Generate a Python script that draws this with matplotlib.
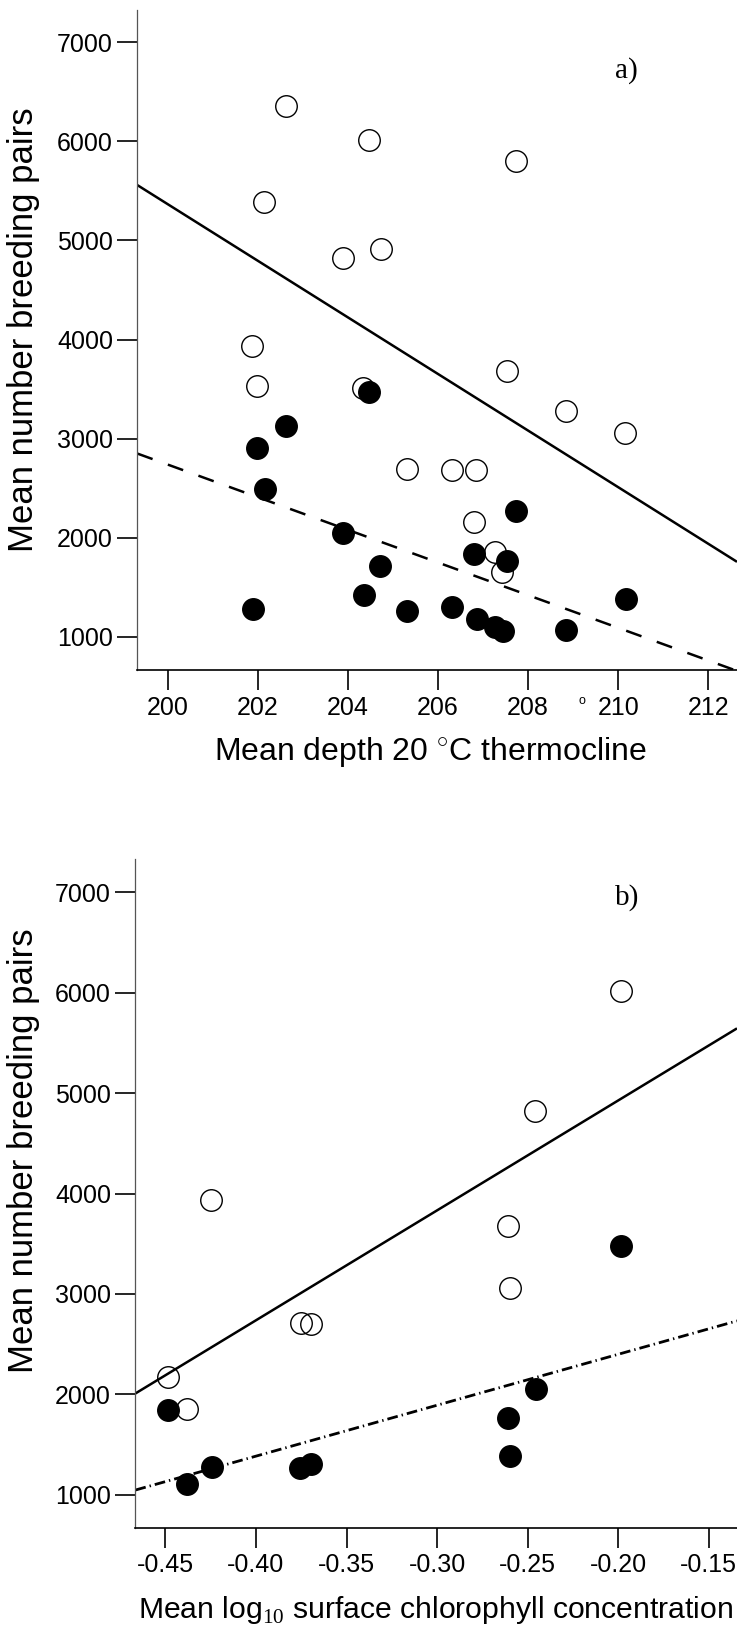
import matplotlib
matplotlib.use('Agg')
import matplotlib.pyplot as plt

plt.rcParams['font.family'] = ['Liberation Sans', 'DejaVu Sans']
plt.rcParams['mathtext.fontset'] = 'custom'
plt.rcParams['mathtext.rm'] = 'Liberation Serif'

# panel a) thermocline depth vs breeding pairs
depth_open = [202.62, 204.46, 207.73, 202.14, 203.89, 204.73, 201.87, 201.98, 207.54,
              208.85, 204.33, 210.15, 205.31, 206.32, 206.85, 206.79, 207.26, 207.42]
pairs_open_a = [6357, 6013, 5805, 5387, 4822, 4909, 3939, 3532, 3680,
                3275, 3512, 3057, 2697, 2687, 2687, 2160, 1857, 1655]
depth_filled = [204.46, 202.62, 201.97, 202.15, 207.73, 203.88, 206.79, 207.54, 204.72,
                204.36, 210.17, 201.88, 205.31, 206.30, 206.86, 207.26, 207.44, 208.85]
pairs_filled_a = [3471, 3128, 2909, 2496, 2271, 2042, 1834, 1766, 1716,
                  1420, 1380, 1276, 1262, 1303, 1175, 1094, 1054, 1067]
fit_x_a = [199.32, 212.64]
fit_open_a = [5559, 1756]
fit_filled_a = [2849, 655]

# panel b) log10 chlorophyll vs breeding pairs
chl_open = [-0.1983, -0.246, -0.4246, -0.2606, -0.2595, -0.3753, -0.3696, -0.4487, -0.4381]
pairs_open_b = [6013, 4824, 3940, 3680, 3060, 2711, 2698, 2174, 1849]
chl_filled = [-0.1983, -0.2455, -0.4241, -0.2606, -0.2595, -0.3758, -0.3696, -0.4487, -0.4381]
pairs_filled_b = [3474, 2048, 1279, 1766, 1388, 1269, 1302, 1840, 1103]
fit_x_b = [-0.4666, -0.1344]
fit_open_b = [2008, 5645]
fit_filled_b = [1046, 2731]

y_ticks = [1000, 2000, 3000, 4000, 5000, 6000, 7000]
x_ticks_a = [200, 202, 204, 206, 208, 210, 212]
x_ticks_b = [-0.45, -0.40, -0.35, -0.30, -0.25, -0.20, -0.15]
x_ticklabels_b = ['-0.45', '-0.40', '-0.35', '-0.30', '-0.25', '-0.20', '-0.15']


def style_axis(ax):
    ax.spines['top'].set_visible(False)
    ax.spines['right'].set_visible(False)
    ax.spines['left'].set_color('#555555')
    ax.spines['left'].set_linewidth(0.9)
    ax.spines['bottom'].set_linewidth(1.2)
    ax.tick_params(axis='both', direction='out', length=14.5, width=1.2, labelsize=18, colors='black')
    ax.tick_params(axis='y', pad=3)
    ax.tick_params(axis='x', pad=4)
    ax.set_yticks(y_ticks)


def draw_points(ax, xo, yo, xf, yf):
    ax.plot(xo, yo, 'o', ms=15.5, mfc='none', mec='black', mew=1.0, ls='none', zorder=3)
    ax.plot(xf, yf, 'o', ms=15.5, mfc='black', mec='black', mew=1.0, ls='none', zorder=4)


fig = plt.figure(figsize=(7.37, 16.35), dpi=100)

ax1 = fig.add_axes([0.1863, 0.59021, 0.8137, 0.40367])
style_axis(ax1)
draw_points(ax1, depth_open, pairs_open_a, depth_filled, pairs_filled_a)
ax1.plot(fit_x_a, fit_open_a, color='black', lw=1.8, solid_capstyle='butt')
ax1.plot(fit_x_a, fit_filled_a, color='black', lw=1.8, linestyle=(0, (6.5, 6.5)))
ax1.set_xlim(199.32, 212.64)
ax1.set_ylim(664, 7326)
ax1.set_xticks(x_ticks_a)
ax1.set_xlabel('Mean depth 20 $^{\\circ}$C thermocline', fontsize=23)
ax1.xaxis.set_label_coords(0.488, -0.0985)
ax1.set_ylabel('Mean number breeding pairs', fontsize=25)
ax1.yaxis.set_label_coords(-0.162, 0.515)
ax1.text(209.93, 6719, 'a)', family='Liberation Serif', fontsize=21, ha='left', va='center')
# stray degree mark left over in the original figure
ax1.text(0.741, -0.047, 'o', transform=ax1.transAxes, fontsize=9, ha='center', va='center')

ax2 = fig.add_axes([0.1837, 0.06563, 0.8163, 0.4088])
style_axis(ax2)
draw_points(ax2, chl_open, pairs_open_b, chl_filled, pairs_filled_b)
ax2.plot(fit_x_b, fit_open_b, color='black', lw=1.8, solid_capstyle='butt')
ax2.plot(fit_x_b, fit_filled_b, color='black', lw=2.0, linestyle=(0, (3.85, 1.45, 0.5, 1.45)))
ax2.set_xlim(-0.4666, -0.1344)
ax2.set_ylim(671, 7329)
ax2.set_xticks(x_ticks_b)
ax2.set_xticklabels(x_ticklabels_b)
ax2.set_xlabel('Mean log$_{\\mathrm{10}}$ surface chlorophyll concentration', fontsize=21.7)
ax2.xaxis.set_label_coords(0.4997, -0.099)
ax2.set_ylabel('Mean number breeding pairs', fontsize=25)
ax2.yaxis.set_label_coords(-0.1586, 0.5636)
ax2.text(-0.2017, 6953, 'b)', family='Liberation Serif', fontsize=21, ha='left', va='center')

fig.savefig('out.png', dpi=100)
